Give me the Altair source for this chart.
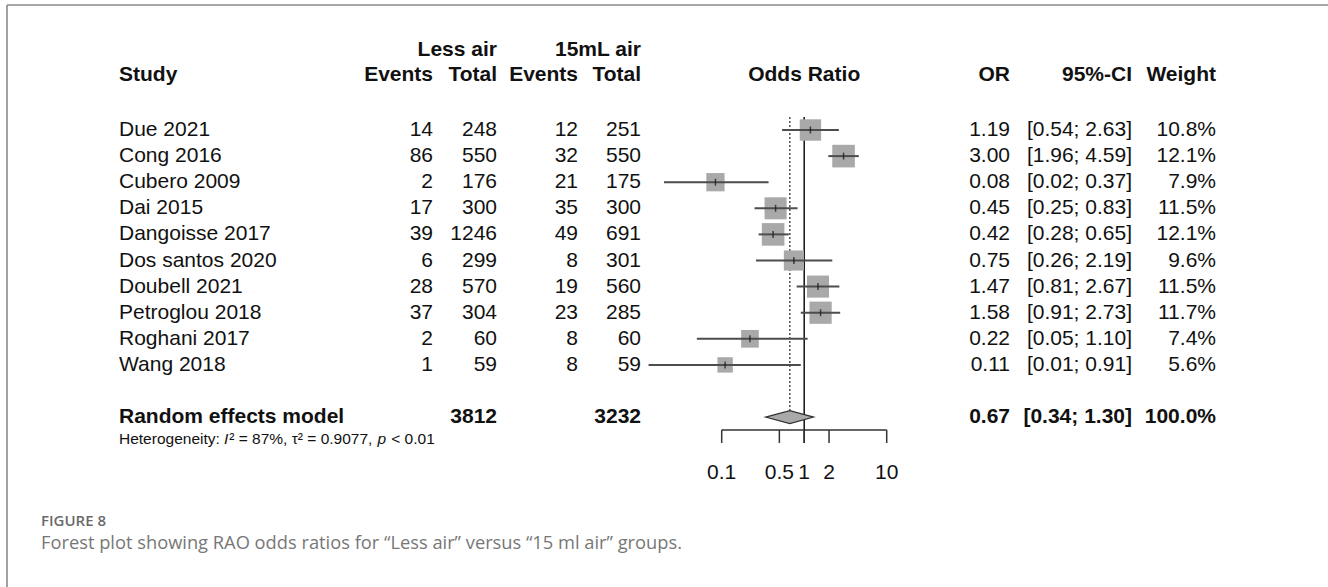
import altair as alt
import pandas as pd

# ---------------- data ----------------
studies = ["Due 2021", "Cong 2016", "Cubero 2009", "Dai 2015", "Dangoisse 2017",
           "Dos santos 2020", "Doubell 2021", "Petroglou 2018", "Roghani 2017", "Wang 2018"]
ev_less = [14, 86, 2, 17, 39, 6, 28, 37, 2, 1]
tot_less = [248, 550, 176, 300, 1246, 299, 570, 304, 60, 59]
ev_15 = [12, 32, 21, 35, 49, 8, 19, 23, 8, 8]
tot_15 = [251, 550, 175, 300, 691, 301, 560, 285, 60, 59]
odds = [1.19, 3.00, 0.084, 0.45, 0.42, 0.75, 1.47, 1.58, 0.22, 0.11]
ci_lo = [0.54, 1.96, 0.02, 0.25, 0.28, 0.26, 0.81, 0.91, 0.05, 0.013]
ci_hi = [2.63, 4.59, 0.37, 0.83, 0.65, 2.19, 2.67, 2.73, 1.10, 0.91]
weight = [10.8, 12.1, 7.9, 11.5, 12.1, 9.6, 11.5, 11.7, 7.4, 5.6]

pooled_label = "Random effects model"
pooled_tot_less = 3812
pooled_tot_15 = 3232
pooled_or = 0.67
pooled_lo = 0.34
pooled_hi = 1.30
pooled_w = 100.0
# heterogeneity line, split into (text, italic) pieces
hetero_parts = [("Heterogeneity: ", False), ("I", True), ("² = 87%, τ² = 0.9077, ", False),
                ("p ", True), ("< 0.01", False)]

axis_ticks = [0.1, 0.5, 1, 2, 10]
axis_labels = ["0.1", "0.5", "1", "2", "10"]

caption_head = "FIGURE 8"
caption_text = "Forest plot showing RAO odds ratios for \u201cLess air\u201d versus \u201c15 ml air\u201d groups."

# ---------------- layout helpers ----------------
FONT = "Liberation Sans"
FS = 21
HET_FS = 15.5
ROW0, ROWH = 130.0, 26.1
yscale = alt.Scale(domain=[0, 10], range=[ROW0, ROW0 + 10 * ROWH], nice=False, zero=False)
xscale = alt.Scale(type="log", domain=[0.1, 10], range=[721.7, 886.7], nice=False)

n = len(studies)
rows = list(range(n))
POOL_ROW = n + 1
HET_ROW = n + 1.85
HDR_ROW = -2.1
HDR2_ROW = -3.05

df = pd.DataFrame({
    "row": rows,
    "study": studies,
    "ev_less": [str(v) for v in ev_less],
    "tot_less": [str(v) for v in tot_less],
    "ev_15": [str(v) for v in ev_15],
    "tot_15": [str(v) for v in tot_15],
    "or": odds, "lo": ci_lo, "hi": ci_hi, "w": weight,
    "or_txt": [f"{v:.2f}" for v in odds],
    "ci_txt": [f"[{a:.2f}; {b:.2f}]" for a, b in zip(ci_lo, ci_hi)],
    "w_txt": [f"{v:.1f}%" for v in weight],
})


def Y(field="row"):
    return alt.Y(f"{field}:Q", scale=yscale, axis=None)


def X(field):
    return alt.X(f"{field}:Q", scale=xscale, axis=None)


def text_layer(data, field, xpx, align="right", bold=False, size=FS, italic=False):
    return alt.Chart(data).mark_text(
        align=align, baseline="middle", font=FONT, fontSize=size,
        fontWeight="bold" if bold else "normal",
        fontStyle="italic" if italic else "normal", color="#111111"
    ).encode(x=alt.value(xpx), y=Y(), text=f"{field}:N")


layers = []

# frame lines
frame = pd.DataFrame({"k": [0]})
layers.append(alt.Chart(frame).mark_rule(color="#8a8a8a", strokeWidth=1.6).encode(
    x=alt.value(7), x2=alt.value(1328), y=alt.value(5)))
layers.append(alt.Chart(frame).mark_rule(color="#8a8a8a", strokeWidth=1.6).encode(
    x=alt.value(7), y=alt.value(5), y2=alt.value(587)))

# headers
def hdr(text, row, xpx, align="right"):
    d = pd.DataFrame({"row": [row], "t": [text]})
    return text_layer(d, "t", xpx, align=align, bold=True)

COL_NAME, COL_E1, COL_T1, COL_E2, COL_T2 = 119, 433, 497, 578, 641
COL_OR, COL_CI, COL_W = 1010, 1132, 1216

layers += [
    hdr("Less air", HDR2_ROW, COL_T1),
    hdr("15mL air", HDR2_ROW, COL_T2),
    hdr("Study", HDR_ROW, COL_NAME, "left"),
    hdr("Events", HDR_ROW, COL_E1),
    hdr("Total", HDR_ROW, COL_T1),
    hdr("Events", HDR_ROW, COL_E2),
    hdr("Total", HDR_ROW, COL_T2),
    hdr("OR", HDR_ROW, COL_OR),
    hdr("95%-CI", HDR_ROW, COL_CI),
    hdr("Weight", HDR_ROW, COL_W),
]
layers.append(alt.Chart(pd.DataFrame({"row": [HDR_ROW], "x": [1], "t": ["Odds Ratio"]})).mark_text(
    align="center", baseline="middle", font=FONT, fontSize=FS, fontWeight="bold", color="#111111"
).encode(x=X("x"), y=Y(), text="t:N"))

# study rows
layers += [
    text_layer(df, "study", COL_NAME, "left"),
    text_layer(df, "ev_less", COL_E1),
    text_layer(df, "tot_less", COL_T1),
    text_layer(df, "ev_15", COL_E2),
    text_layer(df, "tot_15", COL_T2),
    text_layer(df, "or_txt", COL_OR),
    text_layer(df, "ci_txt", COL_CI),
    text_layer(df, "w_txt", COL_W),
]

# pooled row
pool = pd.DataFrame({
    "row": [POOL_ROW], "lab": [pooled_label], "t1": [str(pooled_tot_less)], "t2": [str(pooled_tot_15)],
    "or_txt": [f"{pooled_or:.2f}"], "ci_txt": [f"[{pooled_lo:.2f}; {pooled_hi:.2f}]"],
    "w_txt": [f"{pooled_w:.1f}%"],
})
layers += [
    text_layer(pool, "lab", COL_NAME, "left", bold=True),
    text_layer(pool, "t1", COL_T1, bold=True),
    text_layer(pool, "t2", COL_T2, bold=True),
    text_layer(pool, "or_txt", COL_OR, bold=True),
    text_layer(pool, "ci_txt", COL_CI, bold=True),
    text_layer(pool, "w_txt", COL_W, bold=True),
]

# heterogeneity pieces laid out left to right using approximate Arial advance widths
ARIAL_W = {" ": 278, "=": 584, "<": 584, ",": 278, ".": 278, ":": 278, "%": 889, "²": 333,
           "τ": 450, "I": 278, "p": 556, "H": 722, "e": 556, "t": 278, "r": 333, "o": 556,
           "g": 556, "n": 556, "i": 222, "y": 500}


def text_width(s, size):
    return sum(ARIAL_W.get(c, 556) for c in s) * size / 1000.0


xcur = COL_NAME
for txt, ital in hetero_parts:
    d = pd.DataFrame({"row": [HET_ROW], "t": [txt]})
    layers.append(text_layer(d, "t", xcur, "left", size=HET_FS, italic=ital))
    xcur += text_width(txt, HET_FS) + (0.8 if ital else 0)

# reference lines
ref = pd.DataFrame({"x": [1.0], "y0": [-0.5], "y1": [n + 1.99]})
layers.append(alt.Chart(ref).mark_rule(color="#111111", strokeWidth=1.5).encode(
    x=X("x"), y=Y("y0"), y2="y1"))
dref = pd.DataFrame({"x": [pooled_or], "y0": [-0.5], "y1": [POOL_ROW - 0.24]})
layers.append(alt.Chart(dref).mark_rule(color="#222222", strokeWidth=1.2, strokeDash=[2, 2]).encode(
    x=X("x"), y=Y("y0"), y2="y1"))

# squares
layers.append(alt.Chart(df).mark_square(color="#a9a9a9", opacity=1).encode(
    x=X("or"), y=Y(),
    size=alt.Size("w:Q", scale=alt.Scale(domain=[0, 100], range=[0, 4225]), legend=None)))
# CI lines
layers.append(alt.Chart(df).mark_rule(color="#4d4d4d", strokeWidth=2).encode(
    x=X("lo"), x2="hi", y=Y()))
# point ticks
layers.append(alt.Chart(df).mark_tick(orient="vertical", color="#111111", size=7, thickness=1.5).encode(
    x=X("or"), y=Y()))

# diamond
dia = pd.DataFrame({
    "x": [pooled_lo, pooled_or, pooled_hi],
    "top": [POOL_ROW, POOL_ROW - 0.25, POOL_ROW],
    "bot": [POOL_ROW, POOL_ROW + 0.25, POOL_ROW],
})
layers.append(alt.Chart(dia).mark_area(orient="vertical", fill="#a9a9a9", stroke="#333333",
                                       strokeWidth=1.2, fillOpacity=1).encode(
    x=X("x"), y=Y("top"), y2="bot"))

# axis
AX_ROW = n + 1.49
axl = pd.DataFrame({"x0": [axis_ticks[0]], "x1": [axis_ticks[-1]], "row": [AX_ROW]})
layers.append(alt.Chart(axl).mark_rule(color="#333333", strokeWidth=1.5).encode(
    x=X("x0"), x2="x1", y=Y()))
axt = pd.DataFrame({"x": axis_ticks, "y0": [AX_ROW] * len(axis_ticks),
                    "y1": [n + 1.99] * len(axis_ticks), "lab": axis_labels,
                    "row": [n + 3.15] * len(axis_ticks)})
layers.append(alt.Chart(axt).mark_rule(color="#333333", strokeWidth=1.5).encode(
    x=X("x"), y=Y("y0"), y2="y1"))
layers.append(alt.Chart(axt).mark_text(align="center", baseline="middle", font=FONT, fontSize=FS,
                                       color="#111111").encode(
    x=X("x"), y=Y(), text="lab:N"))

# caption
cap = pd.DataFrame({"t": [caption_head], "c": [caption_text]})
layers.append(alt.Chart(cap).mark_text(align="left", baseline="middle", font="Open Sans", fontSize=15,
                                       fontWeight=600, color="#6a6a6a").encode(
    x=alt.value(41), y=alt.value(521), text="t:N"))
layers.append(alt.Chart(cap).mark_text(align="left", baseline="middle", font="Open Sans", fontSize=18.3,
                                       color="#777777").encode(
    x=alt.value(41), y=alt.value(544), text="c:N"))

chart = alt.layer(*layers).properties(
    width=1328, height=587, padding=0, autosize=alt.AutoSizeParams(type="none"),
    background="white"
).configure_view(stroke=None)

chart.save("out.html", embed_options={"renderer": "svg", "actions": False})
